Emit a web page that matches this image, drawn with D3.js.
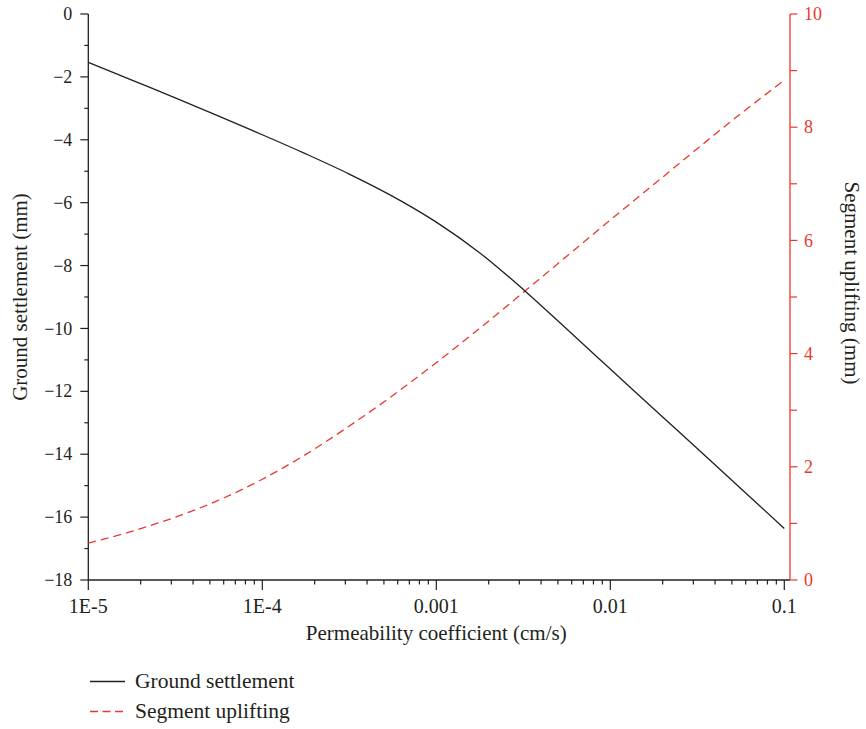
<!DOCTYPE html>
<html>
<head>
<meta charset="utf-8">
<script src="https://cdn.jsdelivr.net/npm/d3@7"></script>
<style>
  html, body { margin: 0; padding: 0; background: #fff; }
  svg { display: block; }
  text { font-family: "Liberation Serif", "Times New Roman", serif; fill: #231f20; }
</style>
</head>
<body>
<svg id="chart" width="866" height="729"></svg>
<script>
// Permeability coefficient (cm/s), quarter-decade steps
const permeability = [1e-5, 1.78e-5, 3.16e-5, 5.62e-5, 1e-4, 1.78e-4, 3.16e-4, 5.62e-4,
  1e-3, 1.78e-3, 3.16e-3, 5.62e-3, 1e-2, 1.78e-2, 3.16e-2, 5.62e-2, 0.1];
// Ground settlement (mm)
const settlement = [-1.54, -2.10, -2.67, -3.25, -3.84, -4.45, -5.09, -5.80,
  -6.62, -7.60, -8.76, -10.02, -11.29, -12.56, -13.82, -15.09, -16.36];
// Segment uplifting (mm)
const uplifting = [0.65, 0.86, 1.11, 1.41, 1.78, 2.22, 2.72, 3.26,
  3.84, 4.45, 5.08, 5.72, 6.36, 6.99, 7.62, 8.24, 8.83];

const xTickValues = [1e-5, 1e-4, 1e-3, 1e-2, 1e-1];
const xTickLabels = ["1E-5", "1E-4", "0.001", "0.01", "0.1"];
const leftTicks = [0, -2, -4, -6, -8, -10, -12, -14, -16, -18];
const leftMinor = [-1, -3, -5, -7, -9, -11, -13, -15, -17];
const rightTicks = [0, 2, 4, 6, 8, 10];
const rightMinor = [1, 3, 5, 7, 9];
const seriesNames = ["Ground settlement", "Segment uplifting"];

const BLACK = "#231f20";
const RED = "#e8392e";

const svg = d3.select("#chart");
const plotLeft = 88.3, plotRight = 784.3, axisRightX = 790, plotTop = 14, plotBottom = 580;

const x = d3.scaleLog().domain([1e-5, 0.1]).range([plotLeft, plotRight]);
const yL = d3.scaleLinear().domain([-18, 0]).range([plotBottom, plotTop]);
const yR = d3.scaleLinear().domain([0, 10]).range([plotBottom, plotTop]);

// minor log ticks 2..9 within each decade
const xMinor = [];
for (let d = 0; d < 4; d++) {
  for (let m = 2; m <= 9; m++) xMinor.push(m * xTickValues[d]);
}

// bottom axis
const gx = svg.append("g").attr("transform", `translate(0,${plotBottom})`);
gx.append("line").attr("x1", plotLeft).attr("x2", axisRightX).attr("y1", 0).attr("y2", 0)
  .attr("stroke", BLACK).attr("stroke-width", 1.3);
gx.selectAll("line.minor").data(xMinor).join("line").attr("class", "minor")
  .attr("x1", d => x(d)).attr("x2", d => x(d)).attr("y1", 0).attr("y2", 4.5)
  .attr("stroke", BLACK).attr("stroke-width", 1.2);
gx.selectAll("line.major").data(xTickValues).join("line").attr("class", "major")
  .attr("x1", d => x(d)).attr("x2", d => x(d)).attr("y1", 0).attr("y2", 10)
  .attr("stroke", BLACK).attr("stroke-width", 1.2);
gx.selectAll("text").data(xTickValues).join("text")
  .attr("x", d => x(d)).attr("y", 33).attr("text-anchor", "middle")
  .attr("font-size", 20).text((d, i) => xTickLabels[i]);

// left axis
const fmt = d3.format("d");
const gl = svg.append("g").attr("transform", `translate(${plotLeft},0)`);
gl.append("line").attr("x1", 0).attr("x2", 0).attr("y1", plotTop).attr("y2", plotBottom)
  .attr("stroke", BLACK).attr("stroke-width", 1.3);
gl.selectAll("line.major").data(leftTicks).join("line").attr("class", "major")
  .attr("x1", 0).attr("x2", -8).attr("y1", d => yL(d)).attr("y2", d => yL(d))
  .attr("stroke", BLACK).attr("stroke-width", 1.2);
gl.selectAll("line.minor").data(leftMinor).join("line").attr("class", "minor")
  .attr("x1", 0).attr("x2", -4).attr("y1", d => yL(d)).attr("y2", d => yL(d))
  .attr("stroke", BLACK).attr("stroke-width", 1.2);
gl.selectAll("text").data(leftTicks).join("text")
  .attr("x", -16).attr("y", d => yL(d)).attr("dy", "0.34em")
  .attr("text-anchor", "end").attr("font-size", 18)
  .text(d => fmt(d).replace("-", "\u2212"));

// right axis
const gr = svg.append("g").attr("transform", `translate(${axisRightX},0)`);
gr.append("line").attr("x1", 0).attr("x2", 0).attr("y1", plotTop).attr("y2", plotBottom)
  .attr("stroke", RED).attr("stroke-width", 1.3);
gr.selectAll("line.major").data(rightTicks).join("line").attr("class", "major")
  .attr("x1", 0).attr("x2", 7.5).attr("y1", d => yR(d)).attr("y2", d => yR(d))
  .attr("stroke", RED).attr("stroke-width", 1.2);
gr.selectAll("line.minor").data(rightMinor).join("line").attr("class", "minor")
  .attr("x1", 0).attr("x2", 7).attr("y1", d => yR(d)).attr("y2", d => yR(d))
  .attr("stroke", RED).attr("stroke-width", 1.2);
gr.selectAll("text").data(rightTicks).join("text")
  .attr("x", 14).attr("y", d => yR(d)).attr("dy", "0.34em")
  .attr("text-anchor", "start").attr("font-size", 18).style("fill", RED)
  .text(d => fmt(d));

// axis titles
svg.append("text").attr("x", (plotLeft + plotRight) / 2).attr("y", 640)
  .attr("text-anchor", "middle").attr("font-size", 21)
  .text("Permeability coefficient (cm/s)");
svg.append("text")
  .attr("transform", `translate(20,${(plotTop + plotBottom) / 2}) rotate(-90)`)
  .attr("text-anchor", "middle").attr("dy", "0.35em").attr("font-size", 21)
  .text("Ground settlement (mm)");
svg.append("text")
  .attr("transform", `translate(852,283) rotate(90)`)
  .attr("text-anchor", "middle").attr("dy", "0.35em").attr("font-size", 21)
  .text("Segment uplifting (mm)");

// series lines
const idx = d3.range(permeability.length);
const lineL = d3.line().x(i => x(permeability[i])).y(i => yL(settlement[i])).curve(d3.curveCatmullRom);
const lineR = d3.line().x(i => x(permeability[i])).y(i => yR(uplifting[i])).curve(d3.curveCatmullRom);

svg.append("path").attr("d", lineR(idx)).attr("fill", "none")
  .attr("stroke", RED).attr("stroke-width", 1.3).attr("stroke-dasharray", "8,5");
svg.append("path").attr("d", lineL(idx)).attr("fill", "none")
  .attr("stroke", BLACK).attr("stroke-width", 1.3);

// legend
const legend = svg.append("g");
const legendRows = [
  { name: seriesNames[0], color: BLACK, dash: null, y: 681.5 },
  { name: seriesNames[1], color: RED, dash: "8,4.5", y: 711.5 }
];
legendRows.forEach(r => {
  legend.append("line").attr("x1", 90).attr("x2", 125).attr("y1", r.y).attr("y2", r.y)
    .attr("stroke", r.color).attr("stroke-width", 1.3)
    .attr("stroke-dasharray", r.dash);
  legend.append("text").attr("x", 135).attr("y", r.y + 6.5)
    .attr("font-size", 21.5).text(r.name);
});
</script>
</body>
</html>
